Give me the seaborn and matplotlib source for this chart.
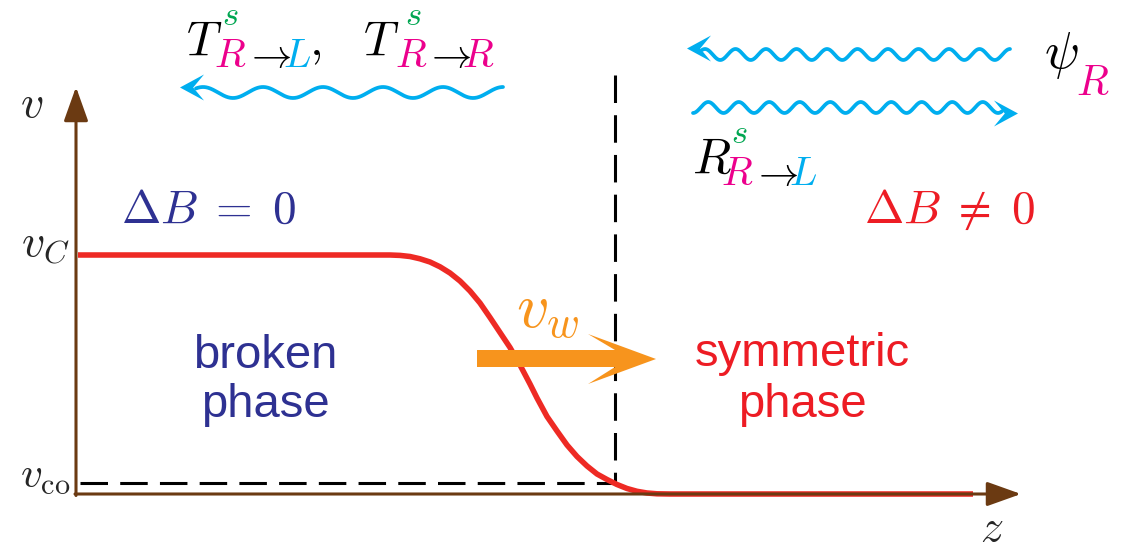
import numpy as np
import matplotlib
matplotlib.use("Agg")
import matplotlib.pyplot as plt
from matplotlib.patches import Polygon
import seaborn as sns

# ---- data (pixel-like units, y grows downward) ----
wall_z = [78, 390, 400, 410, 420, 430, 440, 450, 460, 470, 480, 490, 500,
          510, 520, 530, 537, 547, 557, 567, 577, 587, 597, 607, 617, 627,
          637, 647, 657, 670, 973]
wall_v = [255, 255, 255.4, 256.5, 258.8, 262, 266.8, 273, 281, 291, 303,
          317.5, 332.5, 347.5, 365, 384, 398, 416.5, 431, 445, 456.5, 466,
          474, 479.5, 484.5, 488.5, 491.3, 493, 493.8, 494, 494]
v_C_level = 255
v_co_level = 483
wall_position = 615
phase_labels = ["broken", "phase", "symmetric", "phase"]

# ---- style ----
sns.set_theme(style="white")
plt.rcParams["font.family"] = ["Liberation Sans", "DejaVu Sans"]
plt.rcParams["mathtext.fontset"] = "cm"

RED = "#EE2A24"
NAVY = "#2E3192"
TXT_RED = "#ED1C24"
ORANGE = "#F7941D"
BROWN = "#6B3A12"
CYAN = "#00AEEF"
MAGENTA = "#EC008C"
GREEN = "#00A651"

fig = plt.figure(figsize=(11.24, 5.5), dpi=100)
ax = fig.add_axes([0, 0, 1, 1])
ax.set_xlim(0, 1124)
ax.set_ylim(550, 0)
ax.set_axis_off()

# wall profile
sns.lineplot(x=wall_z, y=wall_v, ax=ax, color=RED, lw=4.0, sort=False,
             zorder=3, solid_capstyle="butt", solid_joinstyle="round")

# dashed guides
ax.plot([80, wall_position], [v_co_level, v_co_level], color="black", lw=2.2,
        dashes=(9, 4), zorder=2)
ax.plot([wall_position, wall_position], [75, v_co_level], color="black", lw=2.2,
        dashes=(9, 4), zorder=2)

# axes arrows
arr = dict(arrowstyle="-|>,head_length=2.1,head_width=0.75", color=BROWN,
           lw=2.2, mutation_scale=10, shrinkA=0, shrinkB=0)
ax.annotate("", xy=(76, 87), xytext=(76, 495.5), arrowprops=arr, zorder=4)
ax.annotate("", xy=(1021, 494), xytext=(75, 494), arrowprops=arr, zorder=4)

# orange wall-velocity arrow
ax.add_patch(Polygon([(477, 350), (615, 350), (588, 334), (656, 359),
                      (588, 384), (615, 367), (477, 367)],
                     closed=True, color=ORANGE, lw=0, zorder=5))


def wave(x0, x1, yc, amp, lam, x_ref, sign):
    xs = np.linspace(x0, x1, 600)
    ys = yc - sign * amp * np.cos(2 * np.pi * (xs - x_ref) / lam)
    ax.plot(xs, ys, color=CYAN, lw=2.7, solid_capstyle="round", zorder=3)


def head(tx, ty, direction, L=24, h=13):
    d = direction
    pts = [(tx, ty), (tx + d * L, ty - h), (tx + d * 0.55 * L, ty),
           (tx + d * L, ty + h)]
    ax.add_patch(Polygon(pts, closed=True, color=CYAN, lw=0, zorder=4))


wave(196, 503, 92.5, 5.5, 60, 503, 1)
head(180, 87.5, 1)
wave(702, 1010, 54.5, 5.5, 30.5, 1010, 1)
head(687, 48.5, 1)
wave(693, 1002, 107.5, 5.5, 30.5, 693, -1)
head(1018, 113.5, -1)

# axis labels
ax.text(32, 117, r"$v$", fontsize=33, ha="center", va="baseline")
ax.text(70, 257, r"$v_C$", fontsize=33, ha="right", va="baseline")
ax.text(70, 488, r"$v_{\rm co}$", fontsize=31, ha="right", va="baseline")
ax.text(992, 541, r"$z$", fontsize=33, ha="center", va="baseline")

# Delta B labels
ax.text(121, 223, r"$\Delta B\;=\;0$", fontsize=34, color=NAVY,
        va="baseline")
ax.text(864, 223, r"$\Delta B\;\neq\;0$", fontsize=34, color=TXT_RED,
        va="baseline")

# phase labels
ax.text(265, 368, phase_labels[0], fontsize=34, color=NAVY, ha="center",
        va="baseline")
ax.text(265, 417, phase_labels[1], fontsize=34, color=NAVY, ha="center",
        va="baseline")
ax.text(802, 366, phase_labels[2], fontsize=34, color=TXT_RED, ha="center",
        va="baseline")
ax.text(802, 417, phase_labels[3], fontsize=34, color=TXT_RED, ha="center",
        va="baseline")

# v_w
ax.text(516, 328, r"$v_w$", fontsize=46, color=ORANGE, va="baseline")


def piece(x, y, s, size, color="black"):
    ax.text(x, y, s, fontsize=size, color=color, va="baseline", ha="left")


# T^s_{R->L},  T^s_{R->R}
piece(186, 55, r"$T$", 35)
piece(222, 25, r"$s$", 25, GREEN)
piece(214, 67, r"$R$", 29, MAGENTA)
piece(244, 67, r"$\rightarrow$", 29)
piece(283, 67, r"$L$", 29, CYAN)
piece(309, 55, r"$,$", 35)
piece(363, 55, r"$T$", 35)
piece(405, 25, r"$s$", 25, GREEN)
piece(395, 67, r"$R$", 29, MAGENTA)
piece(424, 67, r"$\rightarrow$", 29)
piece(462, 67, r"$R$", 29, MAGENTA)

# psi_R
piece(1044, 68, r"$\psi$", 37)
piece(1076, 95, r"$R$", 30, MAGENTA)

# R^s_{R->L}
piece(692, 173, r"$R$", 36)
piece(731, 143, r"$s$", 25, GREEN)
piece(721, 185, r"$R$", 29, MAGENTA)
piece(751, 185, r"$\rightarrow$", 29)
piece(789, 185, r"$L$", 29, CYAN)

fig.savefig("out.png", dpi=100)
